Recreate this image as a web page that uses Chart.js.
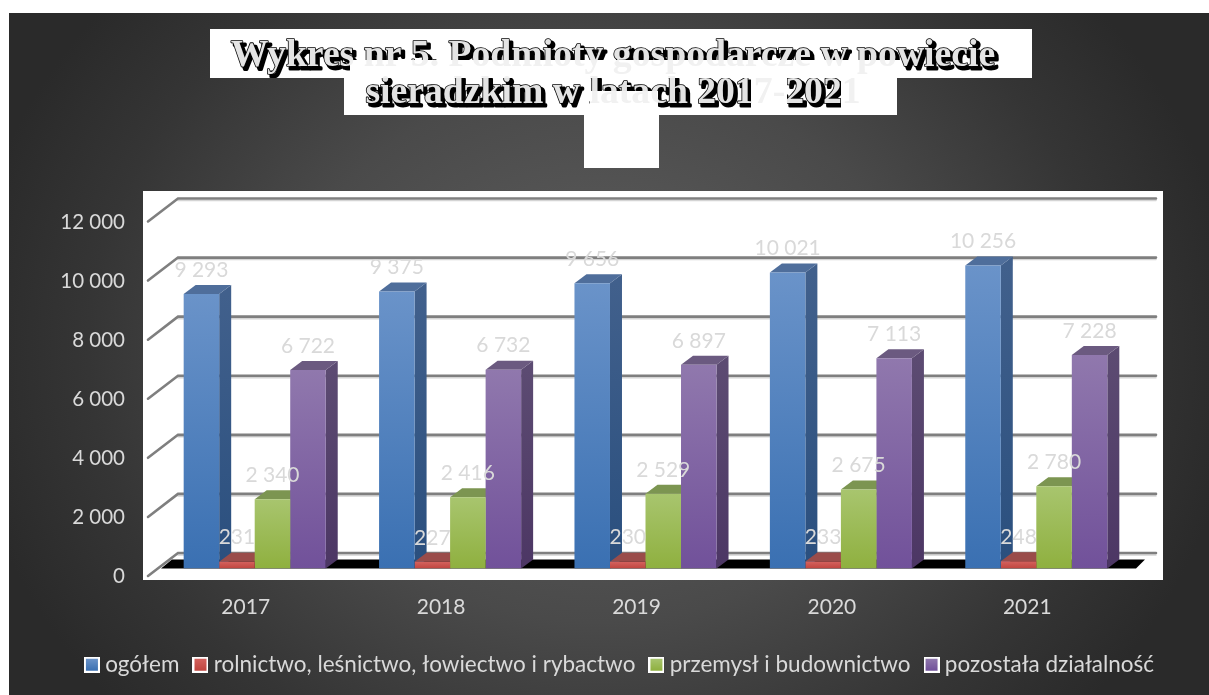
<!DOCTYPE html>
<html lang="pl">
<head>
<meta charset="utf-8">
<title>Podmioty gospodarcze</title>
<script src="https://cdn.jsdelivr.net/npm/chart.js@4"></script>
<style>
  html, body { margin: 0; padding: 0; background: #fff; }
  #wrap { position: relative; width: 1209px; height: 695px; }
</style>
</head>
<body>
<div id="wrap"><canvas id="chart" width="1209" height="695"></canvas></div>
<script>
const categories = ['2017', '2018', '2019', '2020', '2021'];
const ogolem = [9293, 9375, 9656, 10021, 10256];
const rolnictwo = [231, 227, 230, 233, 248];
const przemysl = [2340, 2416, 2529, 2675, 2780];
const pozostala = [6722, 6732, 6897, 7113, 7228];
const seriesNames = ['ogółem', 'rolnictwo, leśnictwo, łowiectwo i rybactwo', 'przemysł i budownictwo', 'pozostała działalność'];
const yTicks = [0, 2000, 4000, 6000, 8000, 10000, 12000];
const titleLines = ['Wykres nr 5. Podmioty gospodarcze w powiecie', 'sieradzkim w latach 2017-2021'];

// front top, front bottom, side top, side bottom, cap
const palette = [
  ['#6a93c9', '#3a70b2', '#41608c', '#2a4f7e', '#4f6e9b'],
  ['#d4625e', '#c0453f', '#8c4241', '#8c4241', '#9a4c4a'],
  ['#a8c56e', '#8fb03f', '#6d8442', '#6d8442', '#7c9551'],
  ['#9078ad', '#71519a', '#5c4b72', '#4c3664', '#6b5a80']
];

const fontName = 'Lato';
const labelColor = '#d9d9d9';
const depthX = 12;
const depthY = -9;
const titleFont = 'bold 37.7px "Liberation Serif"';

const fmt = (v) => String(v).replace(/\B(?=(\d{3})+$)/g, ' ');

function legendBox(colors) {
  const c = document.createElement('canvas');
  c.width = 16;
  c.height = 16;
  const g = c.getContext('2d');
  g.fillStyle = '#ffffff';
  g.fillRect(0, 0, 16, 16);
  const grad = g.createLinearGradient(0, 2, 0, 14);
  grad.addColorStop(0, colors[0]);
  grad.addColorStop(1, colors[1]);
  g.fillStyle = grad;
  g.fillRect(2, 2, 12, 12);
  return c;
}
const legendBoxes = palette.map(legendBox);

function barFill(i) {
  return (context) => {
    const chart = context.chart;
    if (context.parsed === undefined || !chart.scales.y) return palette[i][0];
    const top = chart.scales.y.getPixelForValue(context.parsed.y);
    const bottom = chart.scales.y.getPixelForValue(0);
    const grad = chart.ctx.createLinearGradient(0, top, 0, bottom);
    grad.addColorStop(0, palette[i][0]);
    grad.addColorStop(1, palette[i][1]);
    return grad;
  };
}

function poly(ctx, pts, fill) {
  ctx.beginPath();
  pts.forEach(([x, y], i) => (i ? ctx.lineTo(x, y) : ctx.moveTo(x, y)));
  ctx.closePath();
  ctx.fillStyle = fill;
  ctx.fill();
}

const backdrop = {
  id: 'backdrop',
  afterLayout(chart) {
    chart.legend.left += 9;
    chart.legend.right += 9;
  },
  beforeDraw(chart) {
    const ctx = chart.ctx;
    ctx.save();
    ctx.fillStyle = '#ffffff';
    ctx.fillRect(0, 0, chart.width, chart.height);

    ctx.save();
    ctx.beginPath();
    ctx.rect(9, 13, chart.width - 9, chart.height - 13);
    ctx.clip();
    ctx.translate(600, 350);
    ctx.scale(1, 0.85);
    const bg = ctx.createRadialGradient(0, 0, 0, 0, 0, 640);
    bg.addColorStop(0, '#606060');
    bg.addColorStop(0.5, '#4a4a4a');
    bg.addColorStop(0.8, '#353535');
    bg.addColorStop(1, '#2a2a2a');
    ctx.fillStyle = bg;
    ctx.fillRect(-700, -500, 1400, 1000);
    ctx.restore();

    // white patches behind the title and the plot
    ctx.fillStyle = '#ffffff';
    ctx.fillRect(210, 29, 822, 49);
    ctx.fillRect(344, 78, 553, 37);
    ctx.fillRect(584, 115, 75, 53);
    ctx.fillRect(143, 191, 1020, 389);
    ctx.restore();
  },
  beforeDatasetsDraw(chart) {
    const ctx = chart.ctx;
    const y = chart.scales.y;
    ctx.save();
    yTicks.forEach((v) => {
      const py = y.getPixelForValue(v) - 15.5;
      ctx.lineCap = 'round';
      ctx.strokeStyle = '#d4d4d4';
      ctx.lineWidth = 1.5;
      ctx.beginPath();
      ctx.moveTo(178, py + 2);
      ctx.lineTo(1156, py + 2);
      ctx.stroke();
      ctx.strokeStyle = '#7f7f7f';
      ctx.lineWidth = 2.6;
      ctx.beginPath();
      ctx.moveTo(148, py + 23);
      ctx.lineTo(178, py);
      ctx.lineTo(1156, py);
      ctx.stroke();
    });

    const base = y.getPixelForValue(0);
    poly(ctx, [[161, base], [1136, base], [1145, base - 9], [172, base - 9]], '#000000');

    chart.data.datasets.forEach((ds, i) => {
      chart.getDatasetMeta(i).data.forEach((bar) => {
        const left = bar.x - bar.width / 2;
        const right = bar.x + bar.width / 2;
        const side = ctx.createLinearGradient(0, bar.y, 0, bar.base);
        side.addColorStop(0, palette[i][2]);
        side.addColorStop(1, palette[i][3]);
        poly(ctx, [[right, bar.y], [right + depthX, bar.y + depthY], [right + depthX, bar.base + depthY], [right, bar.base]], side);
        poly(ctx, [[left, bar.y], [left + depthX, bar.y + depthY], [right + depthX, bar.y + depthY], [right, bar.y]], palette[i][4]);
      });
    });
    ctx.restore();
  },
  afterDatasetsDraw(chart) {
    const ctx = chart.ctx;
    ctx.save();
    ctx.font = '21px ' + fontName;
    ctx.fillStyle = labelColor;
    ctx.textAlign = 'center';
    ctx.textBaseline = 'middle';
    chart.data.datasets.forEach((ds, i) => {
      chart.getDatasetMeta(i).data.forEach((bar, j) => {
        ctx.fillText(fmt(ds.data[j]), bar.x, bar.y - 24);
      });
    });
    ctx.restore();
  },
  afterDraw(chart) {
    // the dark, shadowed part of the title shows only in some places
    const ctx = chart.ctx;
    const t = chart.titleBlock;
    const cx = (t.left + t.right) / 2;
    const lh = 37;
    const y0 = t.top + t.options.padding.top + lh / 2;
    const clips = [
      [0, 200, 28, 150, 50], [0, 350, 29, 550, 31], [0, 900, 29, 110, 50],
      [1, 344, 78, 246, 37], [1, 590, 78, 68, 13], [1, 658, 78, 93, 37], [1, 787, 78, 54, 37]
    ];
    clips.forEach(([line, x, y, w, h]) => {
      ctx.save();
      ctx.beginPath();
      ctx.rect(x, y, w, h);
      ctx.clip();
      ctx.font = titleFont;
      ctx.textAlign = 'center';
      ctx.textBaseline = 'middle';
      ctx.lineJoin = 'round';
      const ty = y0 + line * lh;
      ctx.fillStyle = '#000000';
      ctx.strokeStyle = '#000000';
      ctx.lineWidth = 3;
      ctx.strokeText(titleLines[line], cx + 3, ty + 3);
      ctx.fillText(titleLines[line], cx + 3, ty + 3);
      ctx.lineWidth = 1.6;
      ctx.strokeText(titleLines[line], cx, ty);
      ctx.fillStyle = '#e4e4e4';
      ctx.fillText(titleLines[line], cx, ty);
      ctx.restore();
    });
  }
};

const datasets = [ogolem, rolnictwo, przemysl, pozostala].map((values, i) => ({
  label: seriesNames[i],
  data: values,
  backgroundColor: barFill(i),
  borderWidth: 0,
  categoryPercentage: 0.727,
  barPercentage: 1
}));

new Chart(document.getElementById('chart'), {
  type: 'bar',
  data: { labels: categories, datasets: datasets },
  plugins: [backdrop],
  options: {
    responsive: false,
    animation: false,
    devicePixelRatio: 1,
    layout: { padding: { left: 17, right: 0, top: 0, bottom: 9 } },
    font: { family: fontName },
    scales: {
      x: {
        grid: { display: false, drawTicks: false },
        border: { display: false },
        ticks: { color: labelColor, font: { family: fontName, size: 21 }, padding: 26, labelOffset: -9, maxRotation: 0 },
        afterFit: (axis) => { axis.height = 66; }
      },
      y: {
        min: 0,
        max: 12000,
        grid: { display: false, drawTicks: false },
        border: { display: false },
        afterBuildTicks: (axis) => { axis.ticks = yTicks.map((value) => ({ value })); },
        ticks: { color: labelColor, font: { family: fontName, size: 20.5 }, padding: 32, labelOffset: 8, callback: (v) => fmt(v) },
        afterFit: (axis) => { axis.width = 140; }
      },
      spacer: {
        type: 'linear',
        position: 'right',
        grid: { display: false, drawTicks: false },
        border: { display: false },
        ticks: { display: false },
        afterFit: (axis) => { axis.width = 75; }
      }
    },
    plugins: {
      tooltip: { enabled: false },
      title: {
        display: true,
        text: titleLines,
        color: '#f1f1f1',
        font: { family: 'Liberation Serif', size: 37.7, weight: 'bold', lineHeight: '37px' },
        padding: { top: 38, bottom: 102 }
      },
      legend: {
        position: 'bottom',
        labels: {
          usePointStyle: true,
          boxWidth: 4,
          boxHeight: 4,
          padding: 19,
          color: labelColor,
          font: { family: fontName, size: 22.5 },
          generateLabels: () => seriesNames.map((name, i) => ({
            text: name,
            fontColor: labelColor,
            pointStyle: legendBoxes[i],
            datasetIndex: i
          }))
        }
      }
    }
  }
});
</script>
</body>
</html>
